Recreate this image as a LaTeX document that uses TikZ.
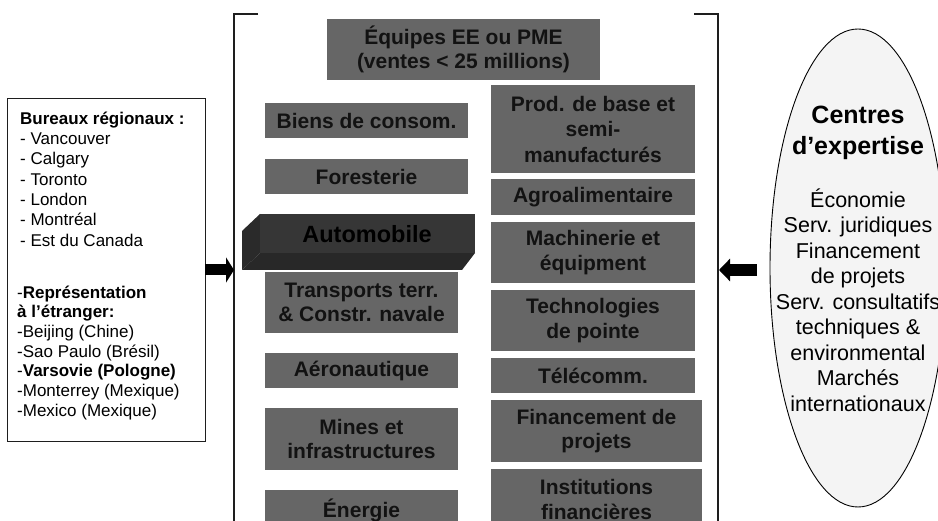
\documentclass[tikz,border=0pt]{standalone}
\usepackage{fontspec}
\setmainfont{Liberation Sans}
\usetikzlibrary{shapes.geometric,arrows.meta,fit}
\definecolor{boxgray}{RGB}{102,102,102}
\definecolor{boxtext}{RGB}{18,18,18}
\definecolor{autofront}{RGB}{54,54,54}
\definecolor{autoside}{RGB}{42,42,42}
\definecolor{autobottom}{RGB}{40,40,40}
\definecolor{ellfill}{RGB}{244,244,244}
\definecolor{linegray}{RGB}{30,30,30}
\begin{document}
\begin{tikzpicture}[x=1pt,y=-1pt,
  gbox/.style={fill=boxgray, inner sep=0pt, align=center, text=boxtext,
    font=\fontsize{21}{24.5}\selectfont\bfseries},
  bracketline/.style={draw=linegray, line width=1.3pt},
  ltext/.style={anchor=north west, inner sep=0pt, align=left},
  etext/.style={inner sep=0pt, align=center},
  blockarrow/.style={draw=black, line width=#1},
]
\useasboundingbox (0,0) rectangle (938,521);
\clip (0,0) rectangle (938,521);

% bracket
\coordinate (bk1) at (258,14);
\coordinate (bk2) at (234,14);
\coordinate (bk3) at (234,530);
\coordinate (bk4) at (694,14);
\coordinate (bk5) at (718,14);
\coordinate (bk6) at (718,530);
\draw[bracketline] (bk1) -- (bk2) -- (bk3);
\draw[bracketline] (bk4) -- (bk5) -- (bk6);

% top box
\node[gbox, fit={(327,19) (600,80)}] (equipes) {};
\node[gbox, fill=none] (equipestxt) at (equipes.center) {Équipes EE ou PME\\(ventes < 25 millions)};

% left column
\node[gbox, fit={(265,103) (468,138)}] (biens) {};
\node[gbox, fill=none] at (biens.center) {Biens de consom.};
\node[gbox, fit={(265,159) (468,194)}] (forest) {};
\node[gbox, fill=none] at (forest.center) {Foresterie};

% Automobile 3D block
\fill[autoside] (242,231) -- (260,214) -- (260,253) -- (242,270) -- cycle;
\fill[autobottom] (260,253) -- (475,253) -- (462,270) -- (242,270) -- cycle;
\fill[autofront] (260,214) rectangle (475,253);
\node[inner sep=0pt, text=black, font=\fontsize{23.5}{26}\selectfont\bfseries] (auto) at (367,234) {Automobile};

\node[gbox, fit={(265,272) (458,333)}] (transp) {};
\node[gbox, fill=none] at (transp.center) {Transports terr.\\\& Constr. navale};
\node[gbox, fit={(265,353) (458,388)}] (aero) {};
\node[gbox, fill=none] at (aero.center) {Aéronautique};
\node[gbox, fit={(265,408) (458,470)}] (mines) {};
\node[gbox, fill=none] at (mines.center) {Mines et\\infrastructures};
\node[gbox, fit={(265,490) (458,530)}] (energie) {};
\node[gbox, fill=none] at (energie.center) {Énergie};

% right column
\node[gbox, fit={(491,85) (695,173)}] (prod) {};
\node[gbox, fill=none, font=\fontsize{21}{25.5}\selectfont\bfseries] at (prod.center) {Prod. de base et\\semi-\\manufacturés};
\node[gbox, fit={(491,179) (695,215)}] (agro) {};
\node[gbox, fill=none] at (agro.center) {Agroalimentaire};
\node[gbox, fit={(491,222) (695,283)}] (mach) {};
\node[gbox, fill=none] at (mach.center) {Machinerie et\\équipment};
\node[gbox, fit={(491,290) (695,351)}] (tech) {};
\node[gbox, fill=none] at (tech.center) {Technologies\\de pointe};
\node[gbox, fit={(491,358) (695,393)}] (tele) {};
\node[gbox, fill=none] at (tele.center) {Télécomm.};
\node[gbox, fit={(491,400) (702,462)}] (finpro) {};
\node[gbox, fill=none] at (finpro.center) {Financement de\\projets};
\node[gbox, fit={(491,469) (702,530)}] (instit) {};
\node[gbox, fill=none] at (instit.center) {Institutions\\financières};

% left box
\node[draw=linegray, line width=0.9pt, inner sep=0pt, fit={(7,98) (205,441)}] (lbox) {};
\node[ltext, font=\fontsize{17}{20.3}\selectfont] (ltxt1) at (20,109.8)
  {\strut\textbf{Bureaux régionaux :}\\- Vancouver\\- Calgary\\- Toronto\\- London\\- Montréal\\- Est du Canada};
\node[ltext, font=\fontsize{17}{19.7}\selectfont] (ltxt2) at (17,284.2)
  {\strut-\textbf{Représentation}\\\textbf{à l’étranger:}\\-Beijing (Chine)\\-Sao Paulo (Brésil)\\-\textbf{Varsovie (Pologne)}\\-Monterrey (Mexique)\\-Mexico (Mexique)};

% ellipse
\node[ellipse, draw=black, line width=0.9pt, fill=ellfill, inner sep=0pt,
  minimum width=176pt, minimum height=478pt] (cexp) at (858,268) {};
\node[etext, font=\fontsize{25}{31}\selectfont\bfseries] (ctitle) at (858,132.5) {Centres\\d’expertise};
\node[etext, font=\fontsize{21.5}{25.5}\selectfont] (cbody) at (858,300)
  {Économie\\Serv. juridiques\\Financement\\de projets\\Serv. consultatifs\\techniques \&\\environmental\\Marchés\\internationaux};

% arrows
\coordinate (lbk) at (234,270);
\draw[blockarrow=11pt, -{Triangle[length=8pt 0 0, width=25pt 0 0]}] (lbox.east |- lbk) -- (lbk);
\coordinate (rst) at (757,270);
\coordinate (rbk) at (719,270);
\draw[blockarrow=12pt, -{Triangle[length=11pt 0 0, width=22pt 0 0]}] (rst) -- (rbk);
\end{tikzpicture}
\end{document}
